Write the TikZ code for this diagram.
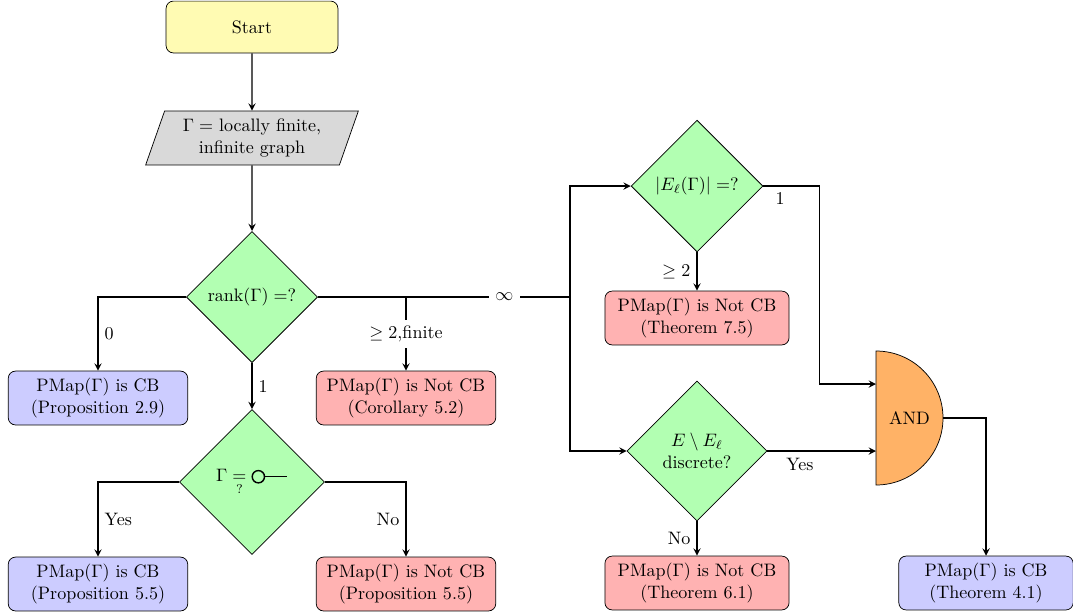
\documentclass[tikz,border=0pt]{standalone}
\usepackage{amsmath}
\usetikzlibrary{arrows.meta,shapes.geometric}
\tikzset{>=stealth}
\tikzset{
  startstop/.style={rectangle, rounded corners, draw, fill=yellow!30,
    minimum width=3.35cm, minimum height=1.01cm},
  io/.style={trapezium, trapezium left angle=72, trapezium right angle=108,
    trapezium stretches=true, draw, fill=gray!30, align=center,
    minimum width=4.15cm, minimum height=1.05cm},
  decision/.style={diamond, aspect=1, draw, fill=green!30, inner sep=0pt,
    align=center},
  cbbox/.style={rectangle, rounded corners, draw, fill=blue!20, align=center,
    minimum width=3.5cm, minimum height=1.05cm},
  ncbbox/.style={rectangle, rounded corners, draw, fill=red!30, align=center,
    minimum width=3.5cm, minimum height=1.05cm},
  andshape/.style={draw, fill=orange!60},
  line/.style={thick}
}

\begin{document}
\begin{tikzpicture}[x=0.0195cm,y=-0.0195cm]
\useasboundingbox (0,0) rectangle (1073,613);

\node[startstop] (start) at (252,27) {Start};
\node[io] (graph) at (252,138) {$\Gamma =$ locally finite,\\ infinite graph};
\node[decision, minimum size=2.56cm] (rank) at (252,297) {rank$(\Gamma) =?$};
\node[cbbox] (cb1) at (98,398) {PMap$(\Gamma)$ is CB\\ (Proposition 2.9)};
\node[ncbbox] (nc1) at (406,398) {PMap$(\Gamma)$ is Not CB\\ (Corollary 5.2)};
\node[decision, minimum size=2.83cm] (gam) at (252,482)
  {$\Gamma \underset{?}{=}$\;\tikz[baseline=-0.6ex]{\draw[thick] (0,0) circle (0.12cm);
   \draw[thick] (0.12cm,0) -- (0.56cm,0);}};
\node[cbbox] (cb2) at (98,584) {PMap$(\Gamma)$ is CB\\ (Proposition 5.5)};
\node[ncbbox] (nc2) at (406,584) {PMap$(\Gamma)$ is Not CB\\ (Proposition 5.5)};

\coordinate (split) at (570,297);
\node[decision, minimum size=2.57cm] (el) at (697,186) {$|E_\ell(\Gamma)| =?$};
\node[ncbbox, minimum width=3.59cm] (nc3) at (697,318) {PMap$(\Gamma)$ is Not CB\\ (Theorem 7.5)};
\node[decision, minimum size=2.73cm] (ed) at (697,451) {$E \setminus E_\ell$\\ discrete?};
\node[ncbbox, minimum width=3.59cm] (nc4) at (697,583) {PMap$(\Gamma)$ is Not CB\\ (Theorem 6.1)};

% AND gate
\draw[andshape] (876,351) arc[start angle=90, end angle=-90, radius=1.3065cm] -- cycle;
\node[minimum width=1.3065cm, minimum height=2.613cm, inner sep=0pt] (andg) at (909.5,418) {AND};
\coordinate (in1) at (876,384);
\coordinate (in2) at (876,451);
\node[cbbox, minimum width=3.4cm] (cb3) at (986,583) {PMap$(\Gamma)$ is CB\\ (Theorem 4.1)};

% connectors
\draw[line,->] (start) -- (graph);
\draw[line,->] (graph) -- (rank);
\draw[line,->] (rank.west) -| node[pos=0.75, right] {0} (cb1);
\draw[line,->] (rank.south) -- node[right] {1} (gam.north);
\draw[line,->] (rank.east) -| node[pos=0.75, fill=white] {$\geq 2$,finite} (nc1);
\draw[line] (rank.east) -- node[pos=0.74, fill=white] {$\infty$} (split);
\draw[line,->] (split) |- (el.west);
\draw[line,->] (split) |- (ed.west);
\draw[line,->] (gam.west) -| node[pos=0.75, right] {Yes} (cb2);
\draw[line,->] (gam.east) -| node[pos=0.75, left] {No} (nc2);

\draw[line,->] (el.east) -- node[pos=0.3, below] {1} ++(56,0) |- (in1);
\draw[line,->] (el.south) -- node[left] {$\geq 2$} (nc3);
\draw[line,->] (ed.east) -- node[pos=0.3, below] {Yes} (in2);
\draw[line,->] (ed.south) -- node[left] {No} (nc4);
\draw[line,->] (andg.east) -| (cb3);
\end{tikzpicture}
\end{document}
